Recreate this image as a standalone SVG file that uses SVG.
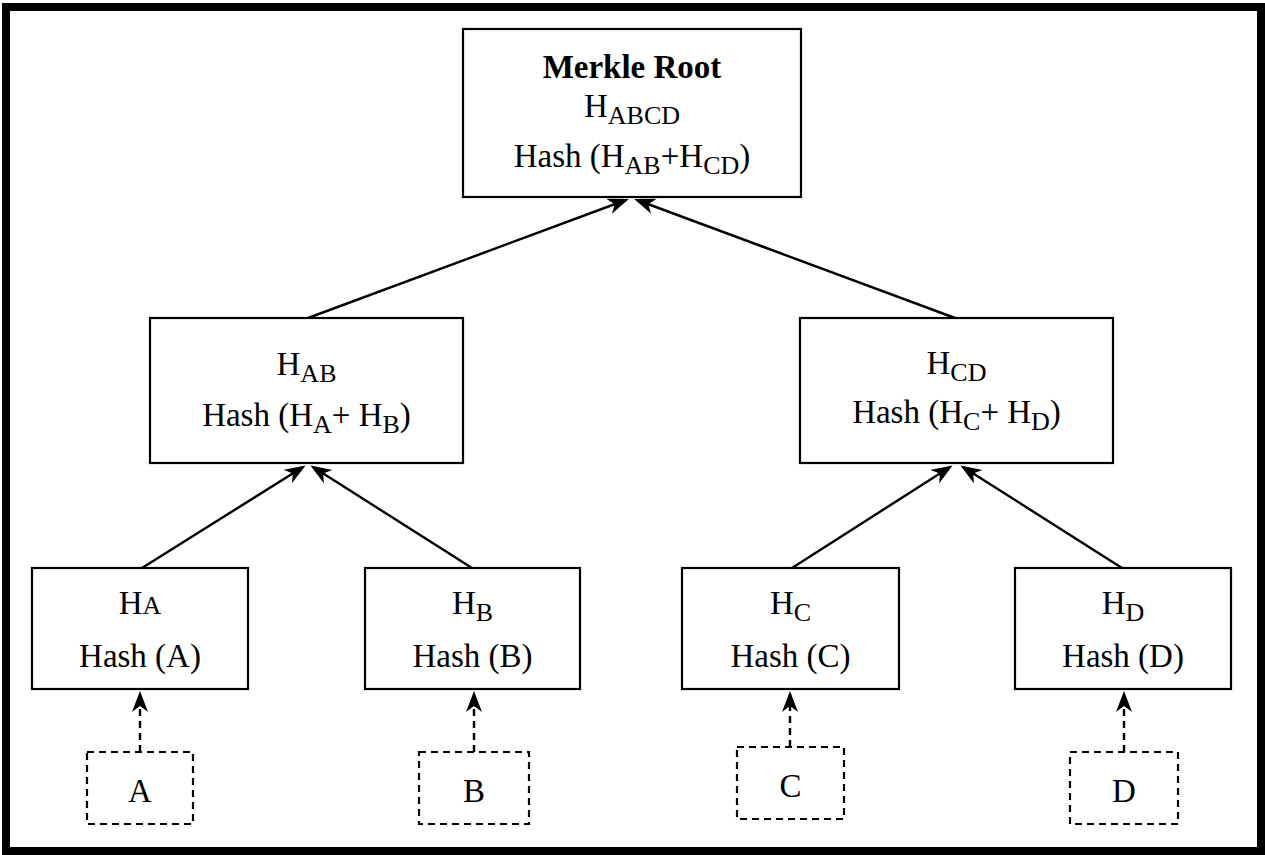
<svg xmlns="http://www.w3.org/2000/svg" width="1265" height="855" viewBox="0 0 1265 855">
<defs>
<style>
.box{fill:#fff;stroke:#000;stroke-width:2.2}
.dbox{fill:#fff;stroke:#000;stroke-width:2.2;stroke-dasharray:7 5}
.edge{fill:none;stroke:#000;stroke-width:2.4}
.dedge{fill:none;stroke:#000;stroke-width:2.4;stroke-dasharray:7 5}
text{font-family:"Liberation Serif","Times New Roman",serif;font-size:33px;fill:#000;text-anchor:middle}
.b{font-weight:bold}
.s{font-size:26px}
</style>
<marker id="arr" markerUnits="userSpaceOnUse" markerWidth="24" markerHeight="20" refX="18" refY="8" orient="auto" viewBox="0 0 24 20">
<path d="M0,0 L21,8 L0,16 L6,8 z" fill="#000"/>
</marker>
</defs>
<rect x="0" y="0" width="1265" height="855" fill="#fff"/>
<rect x="6" y="7" width="1255" height="844" fill="none" stroke="#000" stroke-width="8"/>

<g id="connectors">
<line class="edge" x1="308" y1="318" x2="626" y2="200" marker-end="url(#arr)"/>
<line class="edge" x1="955" y1="318" x2="637" y2="200" marker-end="url(#arr)"/>
<line class="edge" x1="142" y1="568" x2="303" y2="467" marker-end="url(#arr)"/>
<line class="edge" x1="472" y1="568" x2="313" y2="467" marker-end="url(#arr)"/>
<line class="edge" x1="792" y1="568" x2="950" y2="467" marker-end="url(#arr)"/>
<line class="edge" x1="1122" y1="568" x2="963" y2="467" marker-end="url(#arr)"/>
<line class="dedge" x1="140" y1="752" x2="140" y2="694" marker-end="url(#arr)"/>
<line class="dedge" x1="474" y1="752" x2="474" y2="694" marker-end="url(#arr)"/>
<line class="dedge" x1="790" y1="747" x2="790" y2="694" marker-end="url(#arr)"/>
<line class="dedge" x1="1124" y1="752" x2="1124" y2="694" marker-end="url(#arr)"/>
</g>

<g id="root">
<rect class="box" x="463" y="29" width="338" height="168"/>
<text class="b" x="632" y="78">Merkle Root</text>
<text x="632" y="117">H<tspan class="s" dy="7">ABCD</tspan></text>
<text x="632" y="167">Hash (H<tspan class="s" dy="7">AB</tspan><tspan dy="-7">+H</tspan><tspan class="s" dy="7">CD</tspan><tspan dy="-7">)</tspan></text>
</g>

<g id="hab">
<rect class="box" x="150" y="318" width="313" height="145"/>
<text x="306.5" y="375">H<tspan class="s" dy="7">AB</tspan></text>
<text x="306.5" y="426">Hash (H<tspan class="s" dy="7">A</tspan><tspan dy="-7">+ H</tspan><tspan class="s" dy="7">B</tspan><tspan dy="-7">)</tspan></text>
</g>

<g id="hcd">
<rect class="box" x="800" y="318" width="313" height="145"/>
<text x="956.5" y="374">H<tspan class="s" dy="7">CD</tspan></text>
<text x="956.5" y="423">Hash (H<tspan class="s" dy="7">C</tspan><tspan dy="-7">+ H</tspan><tspan class="s" dy="7">D</tspan><tspan dy="-7">)</tspan></text>
</g>

<g id="ha">
<rect class="box" x="32" y="568" width="216" height="121"/>
<text x="140" y="614">H<tspan class="s">A</tspan></text>
<text x="140" y="667">Hash (A)</text>
</g>

<g id="hb">
<rect class="box" x="365" y="568" width="215" height="121"/>
<text x="472.5" y="614">H<tspan class="s" dy="7">B</tspan></text>
<text x="472.5" y="667">Hash (B)</text>
</g>

<g id="hc">
<rect class="box" x="682" y="568" width="217" height="121"/>
<text x="790.5" y="614">H<tspan class="s" dy="7">C</tspan></text>
<text x="790.5" y="667">Hash (C)</text>
</g>

<g id="hd">
<rect class="box" x="1015" y="568" width="216" height="121"/>
<text x="1123" y="614">H<tspan class="s" dy="7">D</tspan></text>
<text x="1123" y="667">Hash (D)</text>
</g>

<g id="a">
<rect class="dbox" x="87" y="752" width="106" height="72"/>
<text x="140" y="802">A</text>
</g>
<g id="b">
<rect class="dbox" x="419" y="752" width="110" height="72"/>
<text x="474" y="802">B</text>
</g>
<g id="c">
<rect class="dbox" x="737" y="747" width="107" height="72"/>
<text x="790.5" y="797">C</text>
</g>
<g id="d">
<rect class="dbox" x="1070" y="752" width="108" height="72"/>
<text x="1124" y="802">D</text>
</g>
</svg>
